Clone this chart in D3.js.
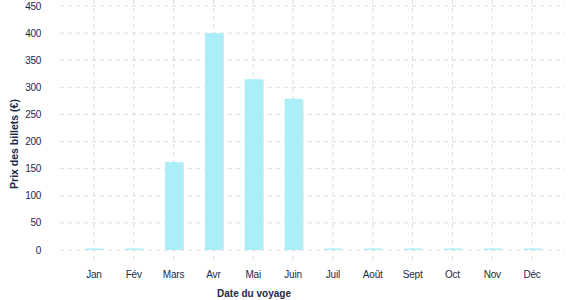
<!DOCTYPE html>
<html>
<head>
<meta charset="utf-8">
<script src="https://cdn.jsdelivr.net/npm/d3@7"></script>
<style>
  body { margin: 0; background: #fff; }
  text { font-family: "Liberation Sans", Arial, sans-serif; fill: #1c2a48; }
</style>
</head>
<body>
<svg id="chart" width="577" height="300"></svg>
<script>
// Chart data
const months = ["Jan", "Fév", "Mars", "Avr", "Mai", "Juin", "Juil", "Août", "Sept", "Oct", "Nov", "Déc"];
const prices = [0, 0, 162, 400, 315, 279, 0, 0, 0, 0, 0, 0];
const yTicks = [0, 50, 100, 150, 200, 250, 300, 350, 400, 450];

const svg = d3.select("#chart");

// Scales
const x = d3.scaleBand().domain(months).range([74, 552]);
const y = d3.scaleLinear().domain([0, 450]).range([250, 6]);

// Horizontal grid
svg.append("g")
  .selectAll("line")
  .data(yTicks)
  .join("line")
  .attr("x1", 60)
  .attr("x2", 565)
  .attr("y1", (d) => y(d))
  .attr("y2", (d) => y(d))
  .attr("stroke", "#dcdcdc")
  .attr("stroke-dasharray", "4,4");

// Vertical grid at month centers
svg.append("g")
  .selectAll("line")
  .data(months)
  .join("line")
  .attr("x1", (d) => x(d) + x.bandwidth() / 2)
  .attr("x2", (d) => x(d) + x.bandwidth() / 2)
  .attr("y1", 0)
  .attr("y2", 263)
  .attr("stroke", "#dcdcdc")
  .attr("stroke-dasharray", "4,4");

// Bars with a light shadow on the right
const barW = 18;
const barH = (d) => Math.max(y(0) - y(d), 1.5);

svg.append("g")
  .selectAll("rect")
  .data(prices)
  .join("rect")
  .attr("x", (d, i) => x(months[i]) + x.bandwidth() / 2 - barW / 2 + 1.5)
  .attr("y", (d) => y(0) - barH(d) + 1)
  .attr("width", barW)
  .attr("height", (d) => barH(d) - 1)
  .attr("fill", (d) => (d > 0 ? "#e2e2e2" : "none"));

svg.append("g")
  .selectAll("rect")
  .data(prices)
  .join("rect")
  .attr("x", (d, i) => x(months[i]) + x.bandwidth() / 2 - barW / 2 + 0.5)
  .attr("y", (d) => y(0) - barH(d))
  .attr("width", barW)
  .attr("height", (d) => barH(d))
  .attr("fill", "#abeef8");

// Y tick labels
svg.append("g")
  .selectAll("text")
  .data(yTicks)
  .join("text")
  .attr("x", 41)
  .attr("y", (d) => y(d))
  .attr("dy", "0.35em")
  .attr("text-anchor", "end")
  .attr("font-size", 10)
  .attr("letter-spacing", "-0.3px")
  .text((d) => d);

// X tick labels
svg.append("g")
  .selectAll("text")
  .data(months)
  .join("text")
  .attr("x", (d) => x(d) + x.bandwidth() / 2)
  .attr("y", 278)
  .attr("text-anchor", "middle")
  .attr("font-size", 10)
  .attr("letter-spacing", "-0.2px")
  .text((d) => d);

// Axis titles
svg.append("text")
  .attr("x", 254)
  .attr("y", 297)
  .attr("text-anchor", "middle")
  .attr("font-size", 10)
  .attr("font-weight", "bold")
  .text("Date du voyage");

svg.append("text")
  .attr("transform", "translate(18,144) rotate(-90)")
  .attr("text-anchor", "middle")
  .attr("font-size", 10.5)
  .attr("font-weight", "bold")
  .text("Prix des billets (€)");
</script>
</body>
</html>
